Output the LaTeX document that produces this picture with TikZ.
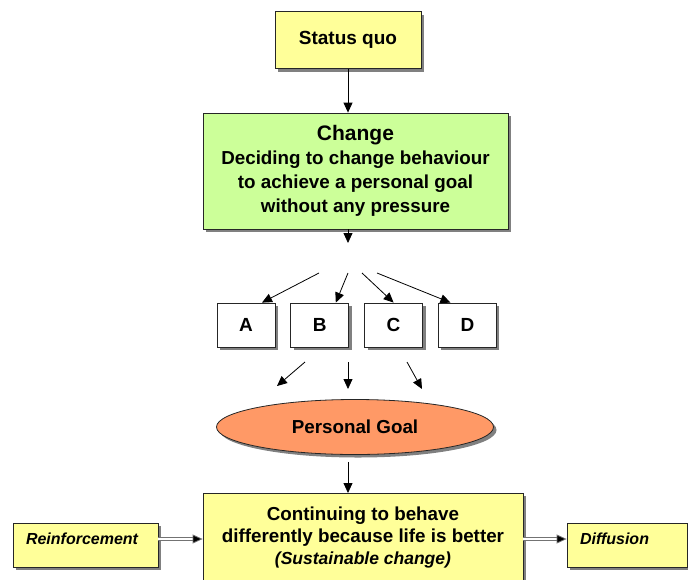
\documentclass[tikz,border=0pt]{standalone}
\usepackage{fontspec}
\setmainfont{Liberation Sans}
\usetikzlibrary{shapes.geometric,arrows.meta,positioning,shadows}
\definecolor{quoyellow}{RGB}{255,255,153}
\definecolor{changegreen}{RGB}{204,255,153}
\definecolor{goalorange}{RGB}{255,153,102}

\begin{document}
\begin{tikzpicture}[
    x=1pt, y=-1pt,
    box/.style={rectangle, draw=black!85, line width=0.8pt, fill=quoyellow, align=center, drop shadow={shadow xshift=3pt, shadow yshift=-3pt, fill=black!50, opacity=1}},
    letter/.style={box, fill=white, minimum width=58pt, minimum height=44pt, font=\bfseries\fontsize{19}{20}\selectfont},
    side/.style={box, align=left, inner xsep=13pt, inner ysep=5pt, text height=16.5pt, text depth=17.5pt, font=\bfseries\itshape\fontsize{16}{18}\selectfont},
    goal/.style={ellipse, draw=black!85, line width=0.8pt, fill=goalorange, minimum width=277pt, minimum height=55pt, inner sep=0pt, font=\bfseries\fontsize{18.8}{22}\selectfont, drop shadow={shadow xshift=3pt, shadow yshift=-3pt, fill=black!50, opacity=1}},
    arrow/.style={-{Triangle[length=10pt,width=9pt]}, line width=0.8pt},
    dbl/.style={-{Triangle[length=10pt,width=9pt,fill=black]}, draw=black!55, double=white, double distance=1.6pt, line width=0.8pt}
]
\useasboundingbox (0,0) rectangle (688,579);

% Nodes
\node[box, minimum width=146pt, minimum height=57pt, font=\bfseries\fontsize{19}{22}\selectfont] (quo) at (348,40) {Status quo};
\node[box, fill=changegreen, minimum width=305pt, minimum height=116pt, font=\bfseries\fontsize{18.8}{24}\selectfont] (change) at (355.5,171) {{\fontsize{21}{24}\selectfont Change}\\Deciding to change behaviour\\to achieve a personal goal\\without any pressure};
\node[letter] (A) at (246,325) {A};
\node[letter, right=15pt of A] (B) {B};
\node[letter, right=15pt of B] (C) {C};
\node[letter, right=15pt of C] (D) {D};
\node[goal] (goal) at (355,427) {Personal Goal};
\node[box, anchor=north, minimum width=320pt, inner ysep=13pt, font=\bfseries\fontsize{18.8}{22}\selectfont] (life) at (363,493) {Continuing to behave\\differently because life is better\\{\itshape\fontsize{17.5}{22}\selectfont (Sustainable change)}\rule[-30pt]{0pt}{30pt}};
\node[side, text width=119pt] (reinforce) at (85.5,545) {Reinforcement};
\node[side, text width=94pt] (diffusion) at (627,545) {Diffusion};

% Free ends
\coordinate (split) at (348,243);
\coordinate (fanA) at (319,273);
\coordinate (fanB) at (348,273);
\coordinate (fanC) at (362,273);
\coordinate (fanD) at (377,273);
\coordinate (outA) at (305,362);
\coordinate (outB) at (348,362);
\coordinate (outC) at (407,362);
\coordinate (inA) at (277,386);
\coordinate (inB) at (348,389);
\coordinate (inC) at (422,389);

% Arrows
\draw[arrow] (quo) -- (quo |- change.north);
\draw[arrow] (change.south -| quo) -- (split);
\draw[arrow] (fanA) -- ([xshift=16pt]A.north);
\draw[arrow] (fanB) -- ([xshift=16pt]B.north);
\draw[arrow] (fanC) -- (C.north);
\draw[arrow] (fanD) -- ([xshift=-17pt]D.north);
\draw[arrow] (outA) -- (inA);
\draw[arrow] (outB) -- (inB);
\draw[arrow] (outC) -- (inC);
\draw[arrow, shorten <=7pt] (goal.south -| quo) -- (life.north -| quo);
\draw[dbl] ([yshift=6pt]reinforce.east) -- ([yshift=6pt]reinforce.east -| life.west);
\draw[dbl] ([yshift=6pt]reinforce.east -| life.east) -- ([yshift=6pt]reinforce.east -| diffusion.west);

\end{tikzpicture}
\end{document}
